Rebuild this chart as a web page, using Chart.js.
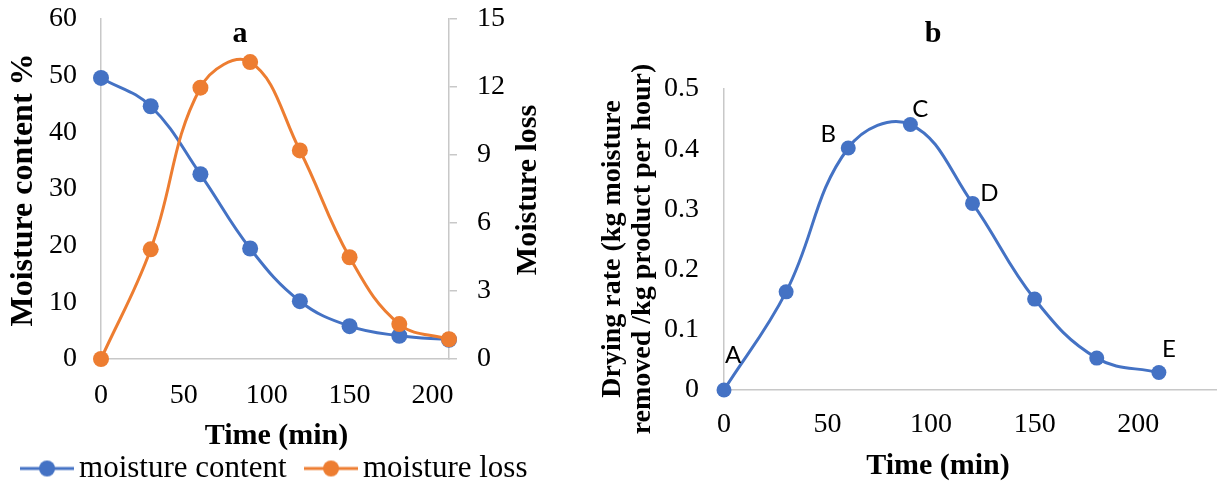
<!DOCTYPE html>
<html><head><meta charset="utf-8">
<script src="https://cdn.jsdelivr.net/npm/chart.js@4.4.1/dist/chart.umd.min.js"></script>
<style>
html,body{margin:0;padding:0;background:#fff;overflow:hidden;width:1217px;height:483px;}
#wrap{position:relative;width:1217px;height:483px;overflow:hidden;background:#fff;}
#ca{position:absolute;left:-11px;top:0;}
#cb{position:absolute;left:580px;top:0;}
</style></head><body>
<div id="wrap"><canvas id="ca" width="580" height="494"></canvas><canvas id="cb" width="649" height="494"></canvas></div>
<script>
// ---- data ----
const timeMin = [0, 30, 60, 90, 120, 150, 180, 210];
const moistureContent = [49.6, 44.6, 32.6, 19.5, 10.2, 5.8, 4.1, 3.4];
const moistureLoss = [0, 4.84, 11.97, 13.1, 9.2, 4.49, 1.54, 0.87];
const dryingRate = [0, 0.163, 0.402, 0.441, 0.310, 0.151, 0.053, 0.029];
const stageLabels = ['A', '', 'B', 'C', 'D', '', '', 'E'];
const seriesNames = ['moisture content', 'moisture loss'];

// ---- style ----
const SERIF = "'Liberation Serif', 'Times New Roman', serif";
const BLUE = '#4472C4', ORANGE = '#ED7D31', AXIS = '#c8c8c8';
const stageOffsets = [[9,-35],[0,0],[-20,-14],[10,-15],[17,-10],[0,0],[0,0],[10,-23]];

function pts(ys){ return timeMin.map((t,i)=>({x:t, y:ys[i]})); }
function swatch(color){
  const c=document.createElement('canvas'); c.width=54; c.height=18;
  const g=c.getContext('2d');
  g.strokeStyle=color; g.lineWidth=3; g.beginPath(); g.moveTo(0,9); g.lineTo(54,9); g.stroke();
  g.fillStyle=color; g.beginPath(); g.arc(27,9,8,0,Math.PI*2); g.fill();
  return c;
}
function noVPad(s){ s.paddingTop=0; s.paddingBottom=0; }
const textPlugin = {
  id:'texts',
  afterDraw(chart, args, opts){
    const ctx=chart.ctx;
    (opts.items||[]).forEach(t=>{
      ctx.save();
      ctx.font=t.font; ctx.fillStyle='#000';
      ctx.textAlign='center'; ctx.textBaseline=t.baseline||'middle';
      ctx.translate(t.x,t.y); if(t.rot) ctx.rotate(t.rot);
      ctx.fillText(t.text,0,0);
      ctx.restore();
    });
  }
};
const stagePlugin = {
  id:'stages',
  afterDatasetsDraw(chart){
    const meta=chart.getDatasetMeta(0), ctx=chart.ctx;
    ctx.save();
    ctx.font="24px Lato, 'Open Sans', sans-serif"; ctx.fillStyle='#000';
    ctx.textAlign='center'; ctx.textBaseline='middle';
    stageLabels.forEach((s,i)=>{
      if(!s) return;
      const el=meta.data[i];
      ctx.fillText(s, el.x+stageOffsets[i][0], el.y+stageOffsets[i][1]);
    });
    ctx.restore();
  }
};
const tickFont = {family:SERIF, size:28};
const border = {display:true, color:AXIS, width:1.5};

// ---- chart a ----
new Chart(document.getElementById('ca'), {
  type:'line',
  data:{datasets:[
    {label:seriesNames[0], data:pts(moistureContent), yAxisID:'y', borderColor:BLUE, backgroundColor:BLUE,
     borderWidth:3, pointRadius:8, pointBorderWidth:0, pointBackgroundColor:BLUE, tension:0.4, clip:false, order:2},
    {label:seriesNames[1], data:pts(moistureLoss), yAxisID:'y1', borderColor:ORANGE, backgroundColor:ORANGE,
     borderWidth:3, pointRadius:8, pointBorderWidth:0, pointBackgroundColor:ORANGE, tension:0.4, clip:false, order:1}
  ]},
  options:{
    responsive:false, animation:false, devicePixelRatio:1,
    layout:{padding:{top:19,left:0,right:0,bottom:0}},
    scales:{
      x:{type:'linear', min:0, max:210,
         ticks:{stepSize:50, includeBounds:false, padding:20, font:tickFont, color:'#000', maxRotation:0},
         grid:{display:false, drawTicks:false}, border, afterFit(s){ s.height=66; }},
      y:{position:'left', min:0, max:60,
         ticks:{stepSize:10, padding:24, font:tickFont, color:'#000'},
         grid:{display:false, drawTicks:false}, border, afterFit(s){ s.width=112; noVPad(s); }},
      y1:{position:'right', min:0, max:15,
         ticks:{stepSize:3, padding:20, font:tickFont, color:'#000'},
         grid:{display:true, drawOnChartArea:false, drawTicks:true, tickLength:8, color:AXIS, lineWidth:1.5},
         border, afterFit(s){ s.width=120; noVPad(s); }}
    },
    plugins:{
      tooltip:{enabled:false},
      legend:{display:true, position:'bottom', align:'center',
        labels:{font:{family:SERIF, size:31}, color:'#000', usePointStyle:true, pointStyleWidth:33, padding:28,
          sort:(a,b)=>a.datasetIndex-b.datasetIndex,
          generateLabels(chart){
            const items=Chart.defaults.plugins.legend.labels.generateLabels(chart);
            items.forEach(it=>{ it.pointStyle = swatch(it.datasetIndex===0?BLUE:ORANGE); });
            return items;
          }}},
      texts:{items:[
        {text:'a', x:251, y:42, font:`bold 30px ${SERIF}`, baseline:'alphabetic'},
        {text:'Moisture content %', x:35, y:190, rot:-Math.PI/2, font:`bold 32px ${SERIF}`},
        {text:'Moisture loss', x:539, y:190, rot:-Math.PI/2, font:`bold 30px ${SERIF}`},
        {text:'Time (min)', x:287.5, y:436, font:`bold 30px ${SERIF}`}
      ]}
    }
  },
  plugins:[textPlugin]
});

// ---- chart b ----
new Chart(document.getElementById('cb'), {
  type:'line',
  data:{datasets:[
    {label:'Drying rate', data:pts(dryingRate), borderColor:BLUE, backgroundColor:BLUE,
     borderWidth:3, pointRadius:7.5, pointBorderWidth:0, pointBackgroundColor:BLUE, tension:0.4, clip:false}
  ]},
  options:{
    responsive:false, animation:false, devicePixelRatio:1,
    layout:{padding:{top:89,left:0,right:8,bottom:0}},
    scales:{
      x:{type:'linear', min:0, max:240,
         ticks:{stepSize:50, includeBounds:false, padding:18, font:tickFont, color:'#000', maxRotation:0},
         grid:{display:false, drawTicks:false}, border, afterFit(s){ s.height=104; }},
      y:{position:'left', min:0, max:0.5,
         ticks:{stepSize:0.1, padding:25, font:tickFont, color:'#000'},
         grid:{display:false, drawTicks:false}, border, afterFit(s){ s.width=144; noVPad(s); }}
    },
    plugins:{
      tooltip:{enabled:false},
      legend:{display:false},
      texts:{items:[
        {text:'b', x:353, y:42, font:`bold 30px ${SERIF}`, baseline:'alphabetic'},
        {text:'Drying rate (kg moisture', x:33, y:249, rot:-Math.PI/2, font:`bold 28px ${SERIF}`},
        {text:'removed /kg product per hour)', x:63, y:249, rot:-Math.PI/2, font:`bold 28px ${SERIF}`},
        {text:'Time (min)', x:358, y:466, font:`bold 30px ${SERIF}`}
      ]}
    }
  },
  plugins:[textPlugin, stagePlugin]
});
</script>
</body></html>
